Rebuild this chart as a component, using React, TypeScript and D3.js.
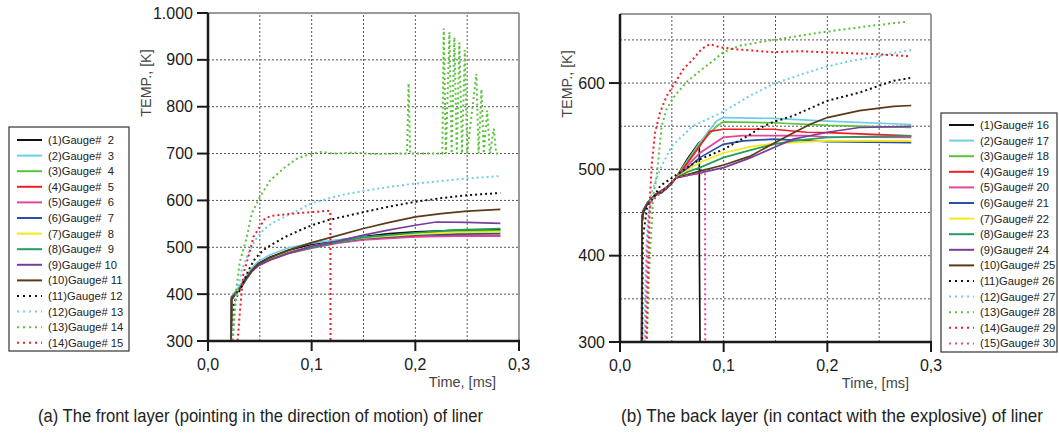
import React from "react";
import * as d3 from "d3";

type P = [number, number];

// ---------- Panel (a): front layer, gauges 2..15 ----------
const namesA = ["(1)Gauge#  2","(2)Gauge#  3","(3)Gauge#  4","(4)Gauge#  5","(5)Gauge#  6","(6)Gauge#  7","(7)Gauge#  8","(8)Gauge#  9","(9)Gauge# 10","(10)Gauge# 11","(11)Gauge# 12","(12)Gauge# 13","(13)Gauge# 14","(14)Gauge# 15"];

const a1: P[] = [[0,300],[0.0222,300],[0.0228,392],[0.026,402],[0.03,412],[0.036,432],[0.042,451],[0.048,465],[0.06,479],[0.078,494],[0.1,506],[0.125,515],[0.15,523],[0.175,529],[0.2,533],[0.24,536],[0.282,537]];
const a2: P[] = [[0,300],[0.0222,300],[0.0226,395],[0.026,405],[0.03,416],[0.036,436],[0.042,455],[0.048,469],[0.06,484],[0.078,499],[0.1,509],[0.125,516],[0.15,522],[0.2,528],[0.24,530],[0.282,531]];
const a3: P[] = [[0,300],[0.0224,300],[0.0228,388],[0.026,398],[0.03,409],[0.036,429],[0.042,449],[0.048,463],[0.06,476],[0.078,490],[0.1,500],[0.125,510],[0.15,519],[0.2,530],[0.24,534],[0.282,535]];
const a4: P[] = [[0,300],[0.0222,300],[0.0228,390],[0.026,400],[0.03,410],[0.036,430],[0.042,449],[0.048,462],[0.06,475],[0.078,489],[0.1,501],[0.125,511],[0.15,518],[0.2,523],[0.24,525],[0.282,525]];
const a5: P[] = [[0,300],[0.0222,300],[0.0228,389],[0.026,399],[0.03,409],[0.036,429],[0.042,448],[0.048,460],[0.06,473],[0.078,487],[0.1,498],[0.125,509],[0.15,516],[0.2,522],[0.24,524],[0.282,524]];
const a6: P[] = [[0,300],[0.0221,300],[0.0226,393],[0.026,401],[0.03,411],[0.036,431],[0.042,449],[0.048,462],[0.06,474],[0.078,488],[0.1,500],[0.125,511],[0.15,519],[0.2,526],[0.24,528],[0.282,529]];
const a7: P[] = [[0,300],[0.0222,300],[0.0227,390],[0.026,400],[0.03,411],[0.036,431],[0.042,450],[0.048,463],[0.06,476],[0.078,490],[0.1,501],[0.125,512],[0.15,520],[0.2,528],[0.24,532],[0.282,533]];
const a8: P[] = [[0,300],[0.0223,300],[0.0228,388],[0.026,398],[0.03,409],[0.036,429],[0.042,448],[0.048,461],[0.06,474],[0.078,488],[0.1,499],[0.125,511],[0.15,521],[0.2,531],[0.24,537],[0.282,540]];
const a9: P[] = [[0,300],[0.0222,300],[0.0227,391],[0.026,399],[0.03,409],[0.036,429],[0.042,448],[0.048,460],[0.06,473],[0.078,488],[0.1,502],[0.125,513],[0.15,526],[0.175,537],[0.2,547],[0.22,554],[0.25,553],[0.282,551]];
const a10: P[] = [[0,300],[0.0222,300],[0.0228,388],[0.026,400],[0.03,410],[0.036,432],[0.042,450],[0.048,464],[0.06,478],[0.078,494],[0.1,510],[0.125,525],[0.15,540],[0.175,553],[0.2,565],[0.225,572],[0.25,577],[0.282,581]];
const a11: P[] = [[0,300],[0.024,300],[0.025,380],[0.0277,395],[0.0325,416],[0.039,451],[0.0454,476],[0.0534,494],[0.0615,506],[0.0744,522],[0.0873,535],[0.1,547],[0.116,558],[0.132,566],[0.15,575],[0.175,587],[0.2,597],[0.225,605],[0.25,611],[0.282,616]];
const a12: P[] = [[0,300],[0.024,300],[0.0254,360],[0.028,400],[0.0325,451],[0.039,487],[0.0454,515],[0.0534,537],[0.0615,551],[0.0712,562],[0.084,576],[0.1,594],[0.116,604],[0.132,613],[0.15,620],[0.175,629],[0.2,636],[0.25,647],[0.282,652]];
const a13: P[] = [[0,300],[0.0235,300],[0.0245,330],[0.0256,352],[0.0272,409],[0.0305,466],[0.0374,522],[0.0422,572],[0.05,607],[0.06,643],[0.075,672],[0.0857,689],[0.0986,699],[0.11,704],[0.12,700],[0.14,702],[0.16,699],[0.18,700],[0.192,700],[0.1935,850],[0.195,700],[0.226,700],[0.2274,967],[0.2295,700],[0.2329,959],[0.235,700],[0.2377,948],[0.24,700],[0.2425,937],[0.245,700],[0.2477,921],[0.25,700],[0.2589,870],[0.261,700],[0.2638,837],[0.266,700],[0.2693,792],[0.272,700],[0.2757,753],[0.278,700],[0.282,700]];
const a14: P[] = [[0,300],[0.0285,300],[0.0293,320],[0.0309,366],[0.0341,444],[0.039,480],[0.0438,522],[0.05,544],[0.055,562],[0.0615,567],[0.0776,571],[0.0937,574],[0.1066,576],[0.1147,578],[0.118,577],[0.1182,300]];
const seriesA: P[][] = [a1,a2,a3,a4,a5,a6,a7,a8,a9,a10,a11,a12,a13,a14];

const yTicksA = [300,400,500,600,700,800,900,1000];
const yTickLabelsA = ["300","400","500","600","700","800","900","1.000"];
const yGridA = [400,500,600,700,800,900];

// ---------- Panel (b): back layer, gauges 16..30 ----------
const namesB = ["(1)Gauge# 16","(2)Gauge# 17","(3)Gauge# 18","(4)Gauge# 19","(5)Gauge# 20","(6)Gauge# 21","(7)Gauge# 22","(8)Gauge# 23","(9)Gauge# 24","(10)Gauge# 25","(11)Gauge# 26","(12)Gauge# 27","(13)Gauge# 28","(14)Gauge# 29","(15)Gauge# 30"];

const b1: P[] = [[0,300],[0.0209,300],[0.0212,445],[0.0264,461],[0.0344,471],[0.04,473],[0.045,478],[0.05,484],[0.054,490],[0.065,512],[0.0755,530],[0.0765,531],[0.0765,416],[0.0772,300]];
const b2: P[] = [[0,300],[0.021,300],[0.0213,442],[0.0225,452],[0.0264,461],[0.0344,471],[0.045,479],[0.054,490],[0.065,510],[0.077,531],[0.0932,556],[0.0997,560],[0.148,559],[0.2,556],[0.281,552]];
const b3: P[] = [[0,300],[0.021,300],[0.0213,440],[0.0225,451],[0.0264,461],[0.0344,471],[0.045,479],[0.054,490],[0.065,509],[0.077,529],[0.0932,550],[0.0996,555],[0.148,554],[0.2,551],[0.281,548.5]];
const b4: P[] = [[0,300],[0.021,300],[0.0213,441],[0.0225,452],[0.0264,461],[0.0344,471],[0.045,479],[0.054,490],[0.065,507],[0.077,527],[0.0868,544],[0.0996,546.5],[0.148,546.5],[0.18,543],[0.2,542.5],[0.281,538.7]];
const b5: P[] = [[0,300],[0.021,300],[0.0213,440],[0.0225,451],[0.0264,460],[0.0344,470],[0.045,479],[0.054,490],[0.065,504],[0.077,519],[0.0996,537],[0.118,539],[0.18,539],[0.2,537.5],[0.281,537]];
const b6: P[] = [[0,300],[0.0209,300],[0.0212,446],[0.0225,453],[0.0264,461],[0.0344,471],[0.045,479],[0.054,490],[0.064,500],[0.077,513.6],[0.0996,529],[0.119,533],[0.148,535],[0.2,532],[0.281,531]];
const b7: P[] = [[0,300],[0.021,300],[0.0213,438],[0.0225,450],[0.0264,460],[0.0344,470],[0.045,479],[0.054,490],[0.065,499],[0.077,508],[0.0996,519],[0.125,526],[0.148,530],[0.2,533],[0.281,533]];
const b8: P[] = [[0,300],[0.021,300],[0.0213,439],[0.0225,451],[0.0264,460],[0.0344,470],[0.045,479],[0.054,490],[0.065,497],[0.077,502],[0.0996,513.6],[0.125,522],[0.148,529],[0.167,533],[0.2,537],[0.281,538.7]];
const b9: P[] = [[0,300],[0.021,300],[0.0213,440],[0.0225,451],[0.0264,460],[0.0344,470],[0.045,479],[0.054,490],[0.065,493],[0.077,496],[0.1,502],[0.125,513],[0.148,525],[0.167,535],[0.2,543],[0.231,548.5],[0.281,549.7]];
const b10: P[] = [[0,300],[0.021,300],[0.0213,438],[0.0225,450],[0.0264,460],[0.0344,470],[0.045,479],[0.054,490],[0.065,494],[0.077,498],[0.1,505],[0.125,515],[0.148,530],[0.167,542],[0.183,552],[0.2,560],[0.231,568],[0.264,573],[0.281,574]];
const b11: P[] = [[0,300],[0.0215,300],[0.022,420],[0.026,455],[0.0386,480.6],[0.0547,494],[0.077,511.6],[0.0996,523],[0.125,540],[0.135,548],[0.148,555],[0.167,562],[0.199,579],[0.231,589],[0.264,602.7],[0.28,605.8]];
const b12: P[] = [[0,300],[0.0235,300],[0.025,400],[0.027,445],[0.031,475],[0.0386,500],[0.05,527],[0.07,550],[0.1,567],[0.125,585],[0.148,599],[0.175,610],[0.196,618],[0.22,625],[0.244,630],[0.265,635],[0.281,638]];
const b13: P[] = [[0,300],[0.026,300],[0.028,380],[0.032,469],[0.0354,492],[0.0402,550],[0.045,570],[0.0514,583],[0.064,601],[0.077,614],[0.09,626],[0.0996,635.7],[0.116,643.4],[0.148,650],[0.196,659],[0.244,666.6],[0.276,671]];
const b14: P[] = [[0,300],[0.0255,300],[0.027,380],[0.029,469],[0.0305,504],[0.0338,542.6],[0.0386,566],[0.045,585],[0.0514,597],[0.061,616],[0.0707,628],[0.0788,639.5],[0.0868,645],[0.0964,641.5],[0.109,639.5],[0.148,635.7],[0.1735,637],[0.196,635.7],[0.244,633.7],[0.28,631]];
const b15: P[] = [[0,300],[0.0245,300],[0.026,400],[0.0275,440],[0.03,462],[0.04,474],[0.054,490],[0.07,494],[0.082,496],[0.0822,300]];
const seriesB: P[][] = [b1,b2,b3,b4,b5,b6,b7,b8,b9,b10,b11,b12,b13,b14,b15];

const yTicksB = [300,400,500,600];
const yTickLabelsB = ["300","400","500","600"];
const yGridB = [350,400,450,500,550,600,650];

const xTicks = [0,0.1,0.2,0.3];
const xTickLabels = ["0,0","0,1","0,2","0,3"];
const xGrid = [0.05,0.1,0.15,0.2,0.25];

const captionA = "(a) The front layer (pointing in the direction of motion) of liner";
const captionB = "(b) The back layer (in contact with the explosive) of liner";

// styles
const palette = ["#111111","#6fcde8","#5cc23c","#f21c24","#e2479b","#2b4fa3","#f4ea14","#1f9e5e","#7a3d9c","#5b3a1a","#111111","#6fcde8","#5cc23c","#f21c24","#e2479b"];
const FONT = "'Liberation Sans', Arial, sans-serif";
const NARROW = "'Liberation Sans Narrow', 'Arial Narrow', 'Liberation Sans', sans-serif";

interface PanelProps {
  series: P[][];
  names: string[];
  x0: number; x1: number; y0: number; y1: number;
  yDomain: [number, number];
  yTicks: number[]; yTickLabels: string[]; yGrid: number[];
  yLabelX: number; yLabelY: number;
  legend: { x: number; y: number; w: number; h: number; row0: number };
  timeX: number;
}

function Panel(p: PanelProps) {
  const xs = d3.scaleLinear().domain([0, 0.3]).range([p.x0, p.x1]);
  const ys = d3.scaleLinear().domain(p.yDomain).range([p.y0, p.y1]);
  const line = d3.line<P>().x(d => xs(d[0])).y(d => ys(d[1]));
  const rowH = 15.6;
  return (
    <g>
      {xGrid.map((t, i) => (
        <line key={"gx" + i} x1={xs(t)} x2={xs(t)} y1={p.y0} y2={p.y1} stroke="#555" strokeWidth={1} strokeDasharray="2,2" />
      ))}
      {p.yGrid.map((v, i) => (
        <line key={"gy" + i} x1={p.x0} x2={p.x1} y1={ys(v)} y2={ys(v)} stroke="#555" strokeWidth={1} strokeDasharray="2,2" />
      ))}
      <line x1={p.x0} x2={p.x1} y1={p.y1} y2={p.y1} stroke="#9a9a9a" strokeWidth={2} />
      <line x1={p.x1} x2={p.x1} y1={p.y1} y2={p.y0} stroke="#9a9a9a" strokeWidth={2} />
      {p.series.map((s, i) => (
        <path key={"s" + i} d={line(s) || ""} fill="none" stroke={palette[i]}
          strokeWidth={i >= 10 ? 2 : 1.7} strokeDasharray={i >= 10 ? "2,3" : undefined} />
      ))}
      <line x1={p.x0} x2={p.x0} y1={p.y0 + 1} y2={p.y1} stroke="#1a1a1a" strokeWidth={2.5} />
      <line x1={p.x0 - 1} x2={p.x1 + 1} y1={p.y0} y2={p.y0} stroke="#1a1a1a" strokeWidth={2.5} />
      {p.yTicks.map((v, i) => (
        <g key={"yt" + i}>
          <line x1={p.x0 - 11} x2={p.x0} y1={ys(v)} y2={ys(v)} stroke="#1a1a1a" strokeWidth={2} />
          <text x={p.x0 - 15} y={ys(v) + 5.5} textAnchor="end" fontSize={16} fontFamily={FONT} fill="#1a1a1a">{p.yTickLabels[i]}</text>
        </g>
      ))}
      {xTicks.map((t, i) => (
        <g key={"xt" + i}>
          <line x1={xs(t)} x2={xs(t)} y1={p.y0} y2={p.y0 + 10} stroke="#1a1a1a" strokeWidth={2} />
          <text x={xs(t)} y={p.y0 + 29} textAnchor="middle" fontSize={16} fontFamily={FONT} fill="#1a1a1a">{xTickLabels[i]}</text>
        </g>
      ))}
      <text x={p.timeX} y={p.y0 + 46} textAnchor="end" fontSize={14.5} fontFamily={FONT} fill="#444">Time, [ms]</text>
      <text transform={`translate(${p.yLabelX},${p.yLabelY}) rotate(-90)`} textAnchor="middle" fontSize={14.3} fontFamily={FONT} fill="#444">TEMP., [K]</text>
      <rect x={p.legend.x} y={p.legend.y} width={p.legend.w} height={p.legend.h} fill="#fff" stroke="#333" strokeWidth={1.2} />
      {p.names.map((n, i) => {
        const cy = p.legend.row0 + i * rowH;
        return (
          <g key={"lg" + i}>
            <line x1={p.legend.x + 8} x2={p.legend.x + 33} y1={cy} y2={cy} stroke={palette[i]}
              strokeWidth={2} strokeDasharray={i >= 10 ? "2,4" : undefined} />
            <text x={p.legend.x + 39} y={cy + 4} fontSize={11.2} fontFamily={FONT} fill="#222" style={{ whiteSpace: "pre" }}>{n}</text>
          </g>
        );
      })}
    </g>
  );
}

export default function App() {
  return (
    <svg width={1059} height={434} style={{ position: "absolute", left: 0, top: 0, background: "#fff" }}>
      <rect x={0} y={0} width={1059} height={434} fill="#fff" />
      <Panel series={seriesA} names={namesA} x0={208} x1={519} y0={341} y1={13}
        yDomain={[300, 1000]} yTicks={yTicksA} yTickLabels={yTickLabelsA} yGrid={yGridA}
        yLabelX={151} yLabelY={83} legend={{ x: 9, y: 127, w: 120, h: 224, row0: 140 }} timeX={496} />
      <Panel series={seriesB} names={namesB} x0={620} x1={931} y0={342} y1={14}
        yDomain={[300, 680]} yTicks={yTicksB} yTickLabels={yTickLabelsB} yGrid={yGridB}
        yLabelX={572} yLabelY={84} legend={{ x: 941, y: 113, w: 116, h: 239, row0: 125 }} timeX={909} />
      <text x={38} y={422} fontSize={17.5} fontFamily={NARROW} fill="#222" textLength={445} lengthAdjust="spacingAndGlyphs">{captionA}</text>
      <text x={621} y={422} fontSize={17.5} fontFamily={NARROW} fill="#222" textLength={422} lengthAdjust="spacingAndGlyphs">{captionB}</text>
    </svg>
  );
}
